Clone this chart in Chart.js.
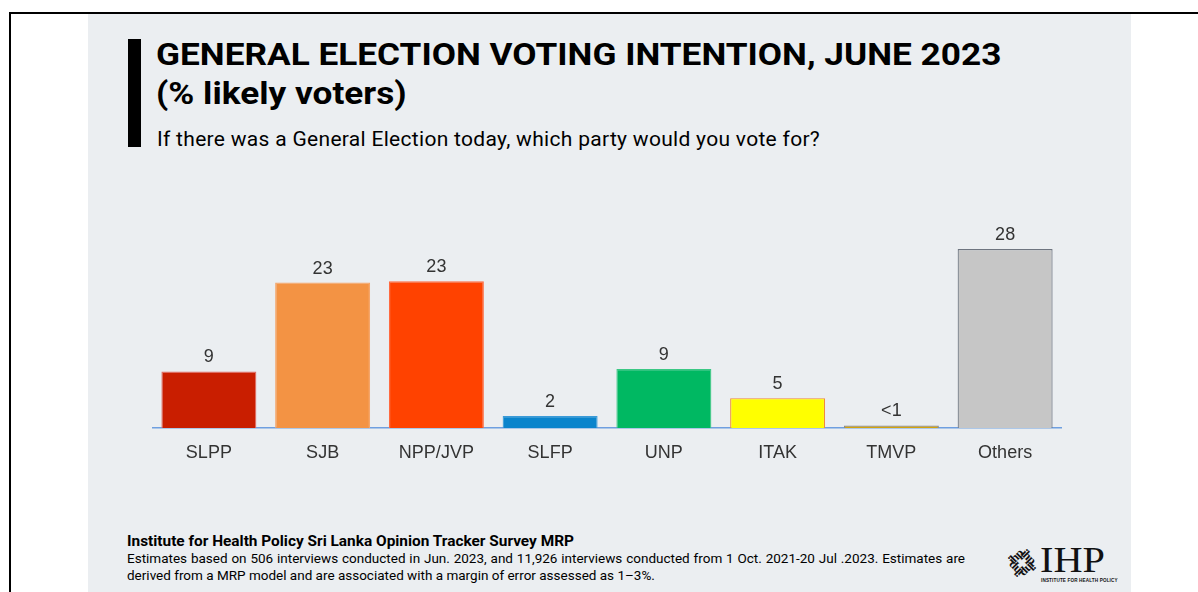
<!DOCTYPE html>
<html>
<head>
<meta charset="utf-8">
<script src="https://cdn.jsdelivr.net/npm/chart.js@4.4.0/dist/chart.umd.min.js"></script>
<style>
  html, body { margin: 0; padding: 0; background: #ffffff; }
  body { width: 1198px; height: 592px; position: relative; overflow: hidden; font-family: Roboto, "Liberation Sans", sans-serif; }
  #frameTop { position: absolute; left: 9px; top: 12px; width: 1189px; height: 2px; background: #000; }
  #frameLeft { position: absolute; left: 9px; top: 12px; width: 2px; height: 580px; background: #000; }
  #panel { position: absolute; left: 88px; top: 14px; width: 1043px; height: 578px; background: #EBEEF1; }
  #bar { position: absolute; left: 128px; top: 39px; width: 13px; height: 108px; background: #000; }
  #title { position: absolute; left: 156px; top: 35px; font-family: Roboto; font-weight: 700; font-size: 32px; line-height: 39px; color: #000; white-space: nowrap; transform: scaleX(1.1); transform-origin: 0 0; }
  #sub { position: absolute; left: 157px; top: 127px; font-family: Roboto; font-size: 21px; letter-spacing: 0.3px; color: #000; white-space: nowrap; }
  #chartBox { position: absolute; left: 152px; top: 200px; width: 910px; height: 278px; }
  #src { position: absolute; left: 127px; top: 532px; font-family: Roboto; font-weight: 700; font-size: 15.4px; color: #000; white-space: nowrap; }
  #note { position: absolute; left: 127px; top: 550px; width: 838px; font-family: Roboto; font-size: 13.5px; line-height: 16.5px; color: #000; text-align: justify; }
  #logo { position: absolute; left: 1000px; top: 540px; width: 120px; height: 48px; }
  #knot { position: absolute; left: 2px; top: 3px; width: 40px; height: 40px; }
  #knot span { position: absolute; left: 0; top: 14px; width: 40px; text-align: center; font-family: "Liberation Serif"; font-weight: 700; font-size: 12.5px; line-height: 12px; color: #111; letter-spacing: -0.8px; }
  #ihp { position: absolute; left: 40px; top: 3px; font-family: "Liberation Serif", "DejaVu Serif", serif; font-size: 35px; line-height: 35px; color: #111; transform: scaleX(1.15); transform-origin: 0 0; }
  #ihpSmall { position: absolute; left: 41px; top: 38px; font-family: "Liberation Sans"; font-weight: 700; font-size: 4.6px; color: #111; white-space: nowrap; letter-spacing: 0.15px; }
</style>
</head>
<body>
<div id="frameTop"></div>
<div id="frameLeft"></div>
<div id="panel"></div>
<div id="bar"></div>
<div id="title">GENERAL ELECTION VOTING INTENTION, JUNE 2023<br>(% likely voters)</div>
<div id="sub">If there was a General Election today, which party would you vote for?</div>
<div id="chartBox"><canvas id="c" width="910" height="278"></canvas></div>
<div id="src">Institute for Health Policy Sri Lanka Opinion Tracker Survey MRP</div>
<div id="note">Estimates based on 506 interviews conducted in Jun. 2023, and 11,926 interviews conducted from 1 Oct. 2021-20 Jul .2023. Estimates are derived from a MRP model and are associated with a margin of error assessed as 1&#8211;3%.</div>
<div id="logo">
  <div id="knot">
    <span style="transform: rotate(45deg) translateY(-9px);">ihp</span>
    <span style="transform: rotate(-45deg) translateY(-9px);">ihp</span>
    <span style="transform: rotate(135deg) translateY(-9px);">ihp</span>
    <span style="transform: rotate(225deg) translateY(-9px);">ihp</span>
  </div>
  <div id="ihp">IHP</div>
  <div id="ihpSmall">INSTITUTE FOR HEALTH POLICY</div>
</div>
<script>
const parties = ['SLPP', 'SJB', 'NPP/JVP', 'SLFP', 'UNP', 'ITAK', 'TMVP', 'Others'];
const shares = [8.9, 22.9, 23.1, 1.9, 9.3, 4.7, 0.4, 28.2];
const shareLabels = ['9', '23', '23', '2', '9', '5', '<1', '28'];
const fillColors = ['#C91E00', '#F39344', '#FF4200', '#0A84CC', '#00B862', '#FFFF00', '#D4A20A', '#C6C6C6'];
const edgeColors = ['#E06A60', '#F5A56A', '#FF6A40', '#3A9AD8', '#3AC884', '#F08A3C', '#8A8A8A', '#6E7580'];

const valueLabels = {
  id: 'valueLabels',
  afterDatasetsDraw(chart) {
    const ctx = chart.ctx;
    const meta = chart.getDatasetMeta(0);
    ctx.save();
    ctx.font = '18px "Liberation Sans", Arial, sans-serif';
    ctx.fillStyle = '#333333';
    ctx.textAlign = 'center';
    ctx.textBaseline = 'alphabetic';
    meta.data.forEach((el, i) => {
      ctx.fillText(shareLabels[i], el.x, el.y - 9);
    });
    ctx.restore();
  }
};

new Chart(document.getElementById('c'), {
  type: 'bar',
  data: {
    labels: parties,
    datasets: [{
      data: shares,
      backgroundColor: fillColors,
      borderColor: edgeColors,
      borderWidth: 1.2,
      categoryPercentage: 1.0,
      barPercentage: 0.835
    }]
  },
  options: {
    responsive: false,
    animation: false,
    devicePixelRatio: 1,
    layout: { padding: { top: 37.5, left: 0, right: 0, bottom: 0 } },
    plugins: { legend: { display: false }, tooltip: { enabled: false } },
    scales: {
      x: {
        z: 1,
        grid: { display: false, drawTicks: false },
        border: { display: true, color: '#6F9FE0', width: 1.5 },
        ticks: { color: '#333333', font: { family: '"Liberation Sans"', size: 18 }, padding: 14, autoSkip: false, maxRotation: 0 },
        afterFit(scale) { scale.height = 50; }
      },
      y: {
        display: false,
        min: 0,
        max: 30
      }
    }
  },
  plugins: [valueLabels]
});
</script>
</body>
</html>
